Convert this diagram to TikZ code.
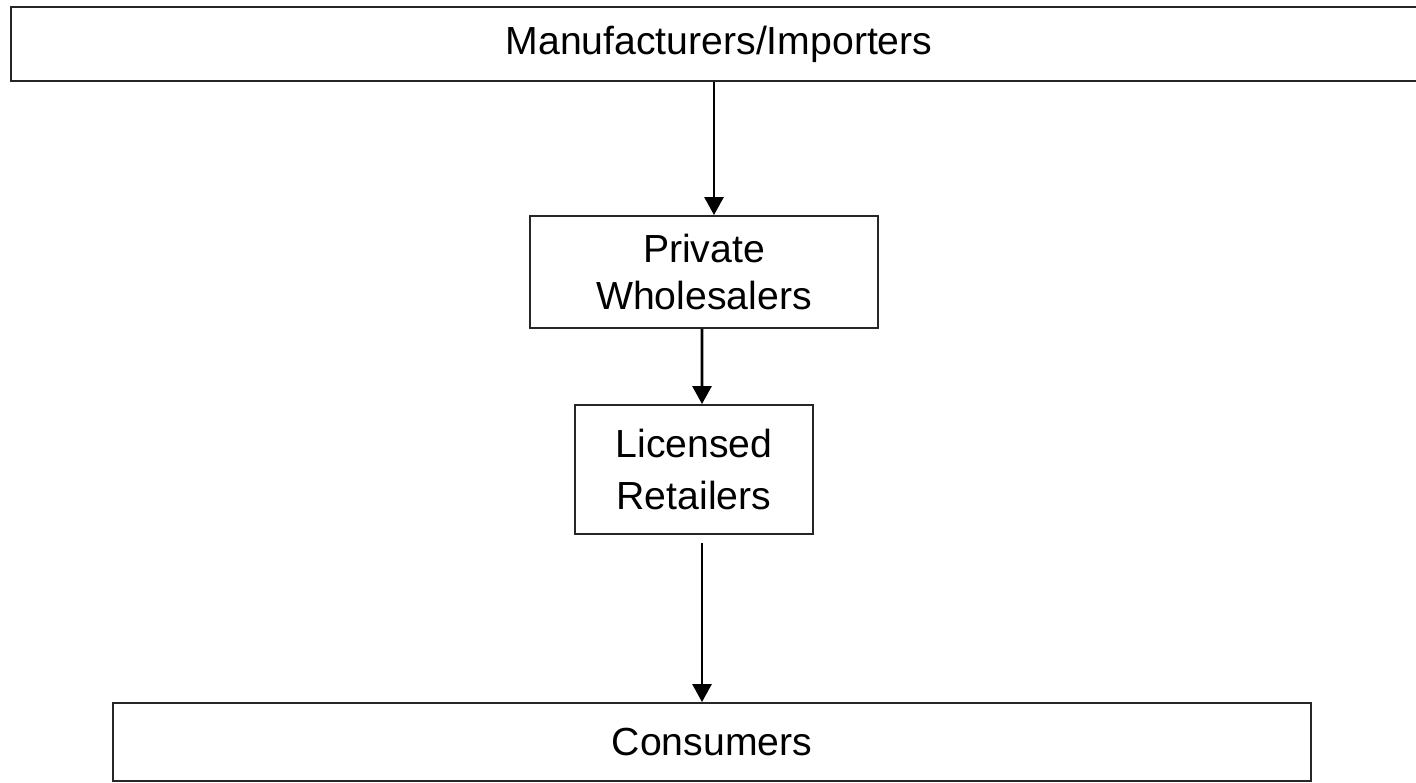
\documentclass[tikz,border=0pt]{standalone}
\usepackage{fontspec}
\setmainfont{Liberation Sans}
\usetikzlibrary{arrows.meta}
\usetikzlibrary{positioning}

\begin{document}
\begin{tikzpicture}[line cap=butt,line join=miter,x=0.02cm,y=-0.02cm,
  chainbox/.style={draw=black!85,line width=1.1pt,inner sep=0pt,align=center,
    font=\fontsize{22.3}{26.7}\selectfont},
  flowarrow/.style={line width=1.6pt,-{Triangle[length=0.36cm,width=0.38cm]}}]
\useasboundingbox (0,0) rectangle (1416,782);
\clip (0,0) rectangle (1416,782);
\node[chainbox,minimum width=28.32cm,minimum height=1.48cm] (mfr) at (719,44) {Manufacturers/Importers};
\node[chainbox,minimum width=6.96cm,minimum height=2.24cm] (whole) at (704,272) {Private\\Wholesalers};
\node[chainbox,minimum width=4.76cm,minimum height=2.58cm,font=\fontsize{22.3}{30}\selectfont] (retail) at (694,469.5) {Licensed\\Retailers};
\node[chainbox,minimum width=23.96cm,minimum height=1.56cm] (cons) at (712,742) {Consumers};

\draw[flowarrow] ([xshift=0.2cm]mfr.south -| whole.north) -- ([xshift=0.2cm]whole.north);
\draw[flowarrow] ([xshift=-0.04cm]whole.south) -- ([xshift=0.16cm]retail.north);
\draw[flowarrow] ([xshift=0.16cm,yshift=-0.16cm]retail.south) -- ([xshift=0.16cm]retail.south |- cons.north);
\end{tikzpicture}
\end{document}
